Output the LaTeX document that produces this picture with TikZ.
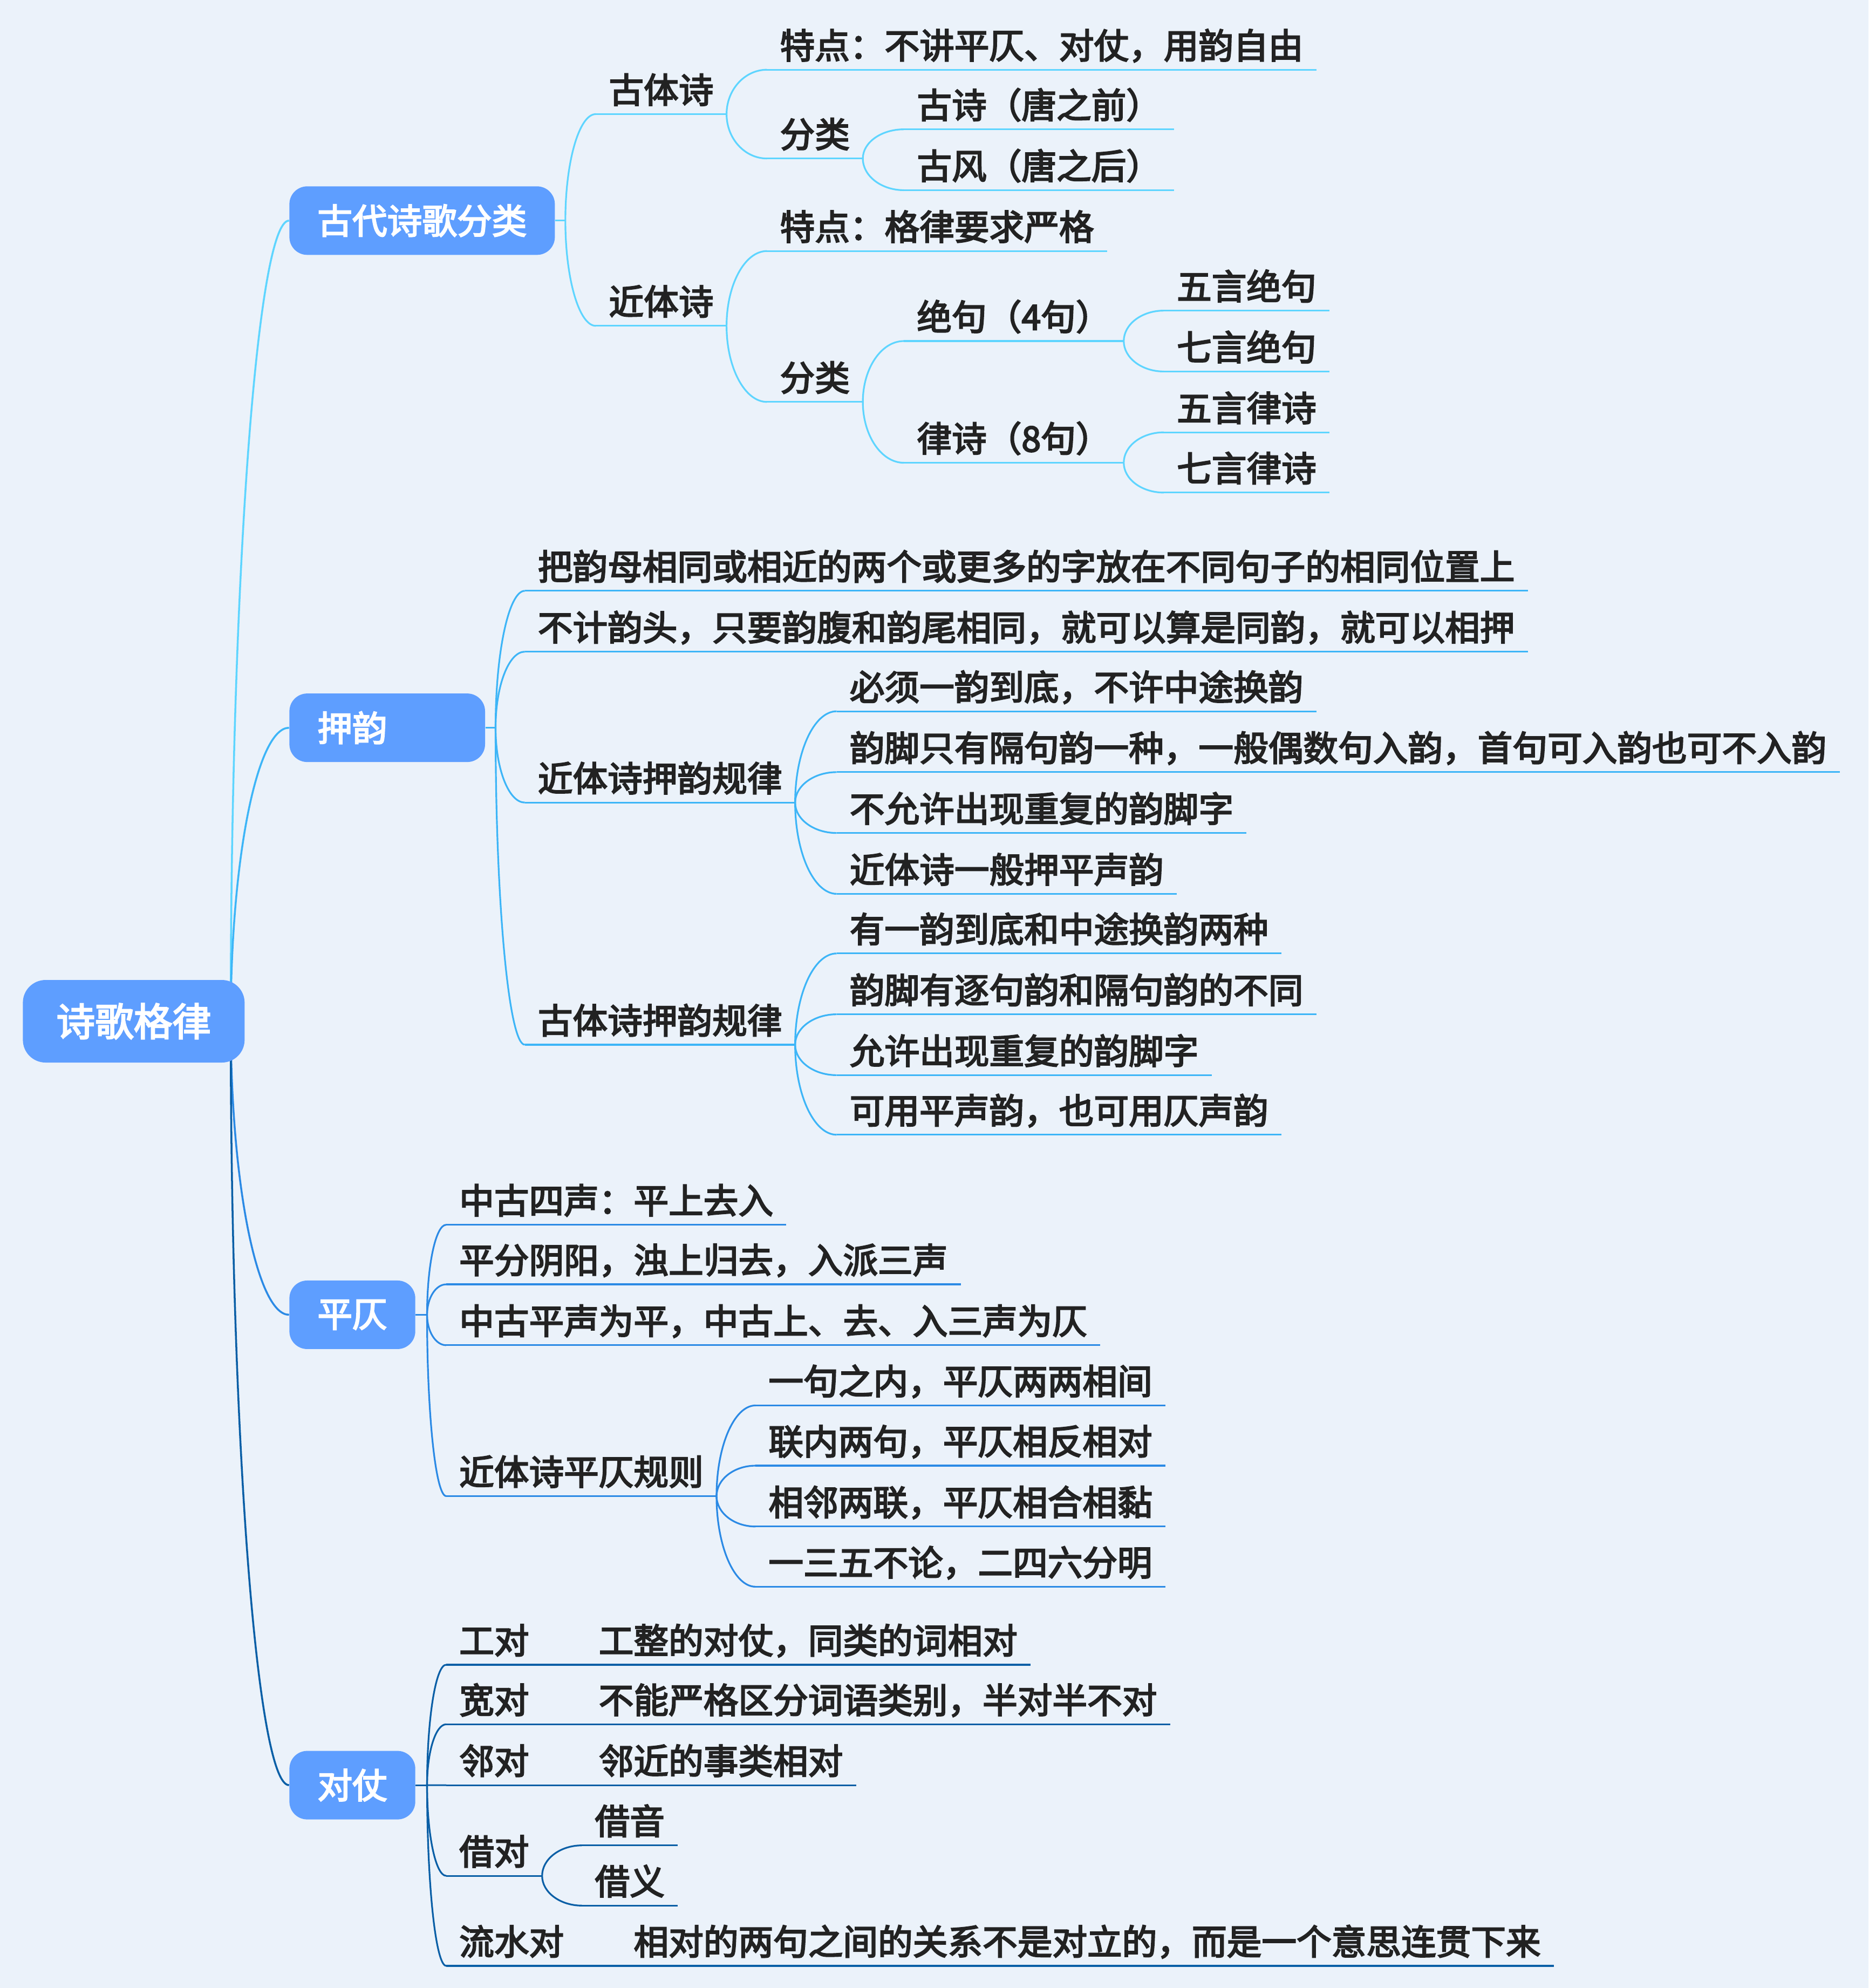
\documentclass[tikz,border=0pt]{standalone}
\usepackage{fontspec}
\setmainfont{Noto Sans CJK SC}[FakeBold=3.5]
\usetikzlibrary{calc,backgrounds}

\definecolor{pagebg}{HTML}{EBF2FA}
\definecolor{boxblue}{HTML}{5E9EFF}
\definecolor{txtdark}{HTML}{222222}
\definecolor{brA}{HTML}{5ED5FF}
\definecolor{brB}{HTML}{3DB5F7}
\definecolor{brC}{HTML}{2B8AE5}
\definecolor{brD}{HTML}{0A5FA6}

\newcommand\rootfont{\fontsize{20.4}{24}\selectfont}
\newcommand\leaffont{\fontsize{18.4}{22}\selectfont}

\begin{document}
\begin{tikzpicture}[
    x=0.0235cm, y=-0.0235cm,
    rootbox/.style={rectangle, fill=boxblue, rounded corners=0.42cm, minimum width=4.11cm, minimum height=1.53cm, inner sep=0pt, text=white, font=\rootfont},
    topicbox/.style={rectangle, fill=boxblue, rounded corners=0.33cm, minimum height=1.27cm, inner xsep=0.52cm, inner ysep=0pt, anchor=west, text=white, font=\leaffont},
    leaf/.style={anchor=south west, inner xsep=0.235cm, inner ysep=0.2cm, text depth=0pt, text=txtdark, font=\leaffont,
        append after command={(\tikzlastnode.south west) edge[draw=#1, line width=0.9pt] (\tikzlastnode.south east)}},
    link/.style={draw=#1, line width=0.9pt},
    curv/.style={to path={.. controls ($(\tikztostart)!0.55!(\tikztostart|-\tikztotarget)$) and ($(\tikztostart|-\tikztotarget)!0.45!(\tikztotarget)$) .. (\tikztotarget)}}
]

% 背景
\begin{scope}[on background layer]
    \fill[pagebg] (0,0) rectangle (1474,1568);
\end{scope}

% 中心主题与分支主题
\node[rootbox] (root) at (105.5,805.5) {诗歌格律};
\coordinate (rootport) at (182,805.5);
\node[topicbox] (gudai) at (228,174) {古代诗歌分类};
\node[topicbox] (yayun) at (228,574) {押韵\hphantom{押韵}};
\node[topicbox] (pingze) at (228,1037) {平仄};
\node[topicbox] (duizhang) at (228,1408) {对仗};

% 古代诗歌分类
\node[leaf=brA] (guti) at (470,90) {古体诗};
\node[leaf=brA] (jinti) at (470,257) {近体诗};
\node[leaf=brA] (gutiTd) at (605,55) {特点：不讲平仄、对仗，用韵自由};
\node[leaf=brA] (gutiFl) at (605,125) {分类};
\node[leaf=brA] (gushi) at (713,102) {古诗（唐之前）};
\node[leaf=brA] (gufeng) at (713,150) {古风（唐之后）};
\node[leaf=brA] (jintiTd) at (605,198) {特点：格律要求严格};
\node[leaf=brA] (jintiFl) at (605,317) {分类};
\node[leaf=brA] (jueju) at (713,269) {绝句（4句）};
\node[leaf=brA] (lvshi) at (713,365) {律诗（8句）};
\node[leaf=brA] (wuJue) at (918,245) {五言绝句};
\node[leaf=brA] (qiJue) at (918,293) {七言绝句};
\node[leaf=brA] (wuLv) at (918,341) {五言律诗};
\node[leaf=brA] (qiLv) at (918,388.5) {七言律诗};

% 押韵
\node[leaf=brB] (yyA) at (414,466) {把韵母相同或相近的两个或更多的字放在不同句子的相同位置上};
\node[leaf=brB] (yyB) at (414,514) {不计韵头，只要韵腹和韵尾相同，就可以算是同韵，就可以相押};
\node[leaf=brB] (jtGui) at (414,633) {近体诗押韵规律};
\node[leaf=brB] (gtGui) at (414,824) {古体诗押韵规律};
\node[leaf=brB] (jtA) at (660,561) {必须一韵到底，不许中途换韵};
\node[leaf=brB] (jtB) at (660,609) {韵脚只有隔句韵一种，一般偶数句入韵，首句可入韵也可不入韵};
\node[leaf=brB] (jtC) at (660,657) {不允许出现重复的韵脚字};
\node[leaf=brB] (jtD) at (660,705) {近体诗一般押平声韵};
\node[leaf=brB] (gtA) at (660,752) {有一韵到底和中途换韵两种};
\node[leaf=brB] (gtB) at (660,800) {韵脚有逐句韵和隔句韵的不同};
\node[leaf=brB] (gtC) at (660,848) {允许出现重复的韵脚字};
\node[leaf=brB] (gtD) at (660,895) {可用平声韵，也可用仄声韵};

% 平仄
\node[leaf=brC] (pzA) at (352,966) {中古四声：平上去入};
\node[leaf=brC] (pzB) at (352,1013) {平分阴阳，浊上归去，入派三声};
\node[leaf=brC] (pzC) at (352,1061) {中古平声为平，中古上、去、入三声为仄};
\node[leaf=brC] (pzGui) at (352,1180) {近体诗平仄规则};
\node[leaf=brC] (pzGA) at (596,1108.5) {一句之内，平仄两两相间};
\node[leaf=brC] (pzGB) at (596,1156) {联内两句，平仄相反相对};
\node[leaf=brC] (pzGC) at (596,1204) {相邻两联，平仄相合相黏};
\node[leaf=brC] (pzGD) at (596,1251.5) {一三五不论，二四六分明};

% 对仗
\node[leaf=brD] (gongdui) at (352,1313) {工对\qquad 工整的对仗，同类的词相对};
\node[leaf=brD] (kuandui) at (352,1360) {宽对\qquad 不能严格区分词语类别，半对半不对};
\node[leaf=brD] (lindui) at (352,1408) {邻对\qquad 邻近的事类相对};
\node[leaf=brD] (jiedui) at (352,1479.5) {借对};
\node[leaf=brD] (jieyin) at (459,1455.5) {借音};
\node[leaf=brD] (jieyi) at (459,1503) {借义};
\node[leaf=brD] (liushui) at (352,1550.5) {流水对\qquad 相对的两句之间的关系不是对立的，而是一个意思连贯下来};

% 中心连线
\begin{scope}[on background layer]
    \draw[link=brA, line width=1pt] (rootport) to[curv] (gudai.west);
    \draw[link=brB, line width=1pt] (rootport) to[curv] (yayun.west);
    \draw[link=brC, line width=1pt] (rootport) to[curv] (pingze.west);
    \draw[link=brD, line width=1pt] (rootport) to[curv] (duizhang.west);
\end{scope}

% 分支连线
\draw[link=brA] (gudai.east) -- ++(8,0) coordinate (gudaiport);
\foreach \c in {guti,jinti} \draw[link=brA] (gudaiport) to[curv] (\c.south west);
\foreach \c in {gutiTd,gutiFl} \draw[link=brA] (guti.south east) to[curv] (\c.south west);
\foreach \c in {gushi,gufeng} \draw[link=brA] (gutiFl.south east) to[curv] (\c.south west);
\foreach \c in {jintiTd,jintiFl} \draw[link=brA] (jinti.south east) to[curv] (\c.south west);
\foreach \c in {jueju,lvshi} \draw[link=brA] (jintiFl.south east) to[curv] (\c.south west);
\foreach \c in {wuJue,qiJue} \draw[link=brA] (jueju.south east) to[curv] (\c.south west);
\foreach \c in {wuLv,qiLv} \draw[link=brA] (lvshi.south east) to[curv] (\c.south west);

\draw[link=brB] (yayun.east) -- ++(8,0) coordinate (yayunport);
\foreach \c in {yyA,yyB,jtGui,gtGui} \draw[link=brB] (yayunport) to[curv] (\c.south west);
\foreach \c in {jtA,jtB,jtC,jtD} \draw[link=brB] (jtGui.south east) to[curv] (\c.south west);
\foreach \c in {gtA,gtB,gtC,gtD} \draw[link=brB] (gtGui.south east) to[curv] (\c.south west);

\draw[link=brC] (pingze.east) -- ++(9,0) coordinate (pingzeport);
\foreach \c in {pzA,pzB,pzC,pzGui} \draw[link=brC] (pingzeport) to[curv] (\c.south west);
\foreach \c in {pzGA,pzGB,pzGC,pzGD} \draw[link=brC] (pzGui.south east) to[curv] (\c.south west);

\draw[link=brD] (duizhang.east) -- ++(9,0) coordinate (duizhangport);
\foreach \c in {gongdui,kuandui,lindui,jiedui,liushui} \draw[link=brD] (duizhangport) to[curv] (\c.south west);
\foreach \c in {jieyin,jieyi} \draw[link=brD] (jiedui.south east) to[curv] (\c.south west);

\end{tikzpicture}
\end{document}
